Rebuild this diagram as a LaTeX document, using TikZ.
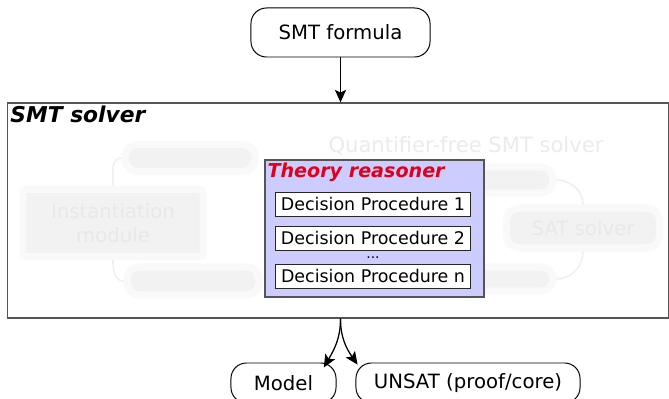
\documentclass[tikz,border=0pt]{standalone}
\usepackage{fontspec}
\setmainfont{DejaVu Sans}
\usetikzlibrary{arrows.meta,positioning}

\definecolor{reasonerblue}{HTML}{CCCCFF}
\definecolor{framegray}{HTML}{555555}
\definecolor{titlered}{HTML}{E0001A}

\tikzset{
    pill/.style={draw=black, line width=0.7pt, rounded corners=11pt, fill=white,
        minimum height=1cm, font=\fontsize{14}{17}\selectfont},
    frame/.style={draw=framegray, line width=0.8pt},
    dpbox/.style={draw=black!85, line width=0.7pt, fill=white, inner sep=0pt,
        minimum width=4.85cm, minimum height=0.6cm, font=\fontsize{12.4}{14}\selectfont},
    boxtitle/.style={anchor=north west, inner sep=2pt, font=\fontsize{15.5}{18}\selectfont\bfseries\itshape},
    ghost/.style={fill=black!5, draw=black!2.5, line width=5pt, rounded corners=9pt,
        text=black!9, font=\fontsize{14}{17}\selectfont},
    ghostline/.style={draw=black!6, line width=1.2pt},
    flow/.style={-{Stealth[length=9pt,width=8pt,inset=2pt]}, line width=0.9pt}
}

\begin{document}
\begin{tikzpicture}[x=0.025cm,y=-0.025cm]
    \useasboundingbox (0,0) rectangle (669,399);

    % input formula
    \node[pill, minimum width=4.475cm, minimum height=1.225cm] (formula) at (340.5,32.5) {SMT formula};

    % outer solver frame
    \node[frame, fill=white, minimum width=16.5cm, minimum height=5.375cm] (solver) at (338,210.5) {};
    \node[boxtitle] (solverlabel) at (solver.north west) {SMT solver};

    % faded parts of the solver
    \node[ghost, minimum width=3.25cm, minimum height=0.675cm] (candtop) at (190,158) {};
    \node[ghost, minimum width=4.5cm, minimum height=1.675cm, align=center, rounded corners=2pt] (inst) at (113,223) {Instantiation\\module};
    \node[ghost, minimum width=3.3cm, minimum height=0.7cm] (candbot) at (193,281) {};
    \node[text=black!8, font=\fontsize{15}{18}\selectfont] (qflabel) at (466,146) {Quantifier-free SMT solver};
    \node[ghost, minimum width=3.3cm, minimum height=0.65cm] (qftop) at (487,180) {};
    \node[ghost, minimum width=3.3cm, minimum height=0.6cm] (qfbot) at (487,279) {};
    \node[ghost, minimum width=3.825cm, minimum height=1cm] (sat) at (583,228) {SAT solver};
    \draw[ghostline] (inst.north) to[out=90,in=180] (candtop.west);
    \draw[ghostline] (inst.south) to[out=-90,in=180] (candbot.west);
    \draw[ghostline] (qftop.east) to[out=0,in=90] (sat.north);
    \draw[ghostline] (sat.south) to[out=-90,in=0] (qfbot.east);

    % theory reasoner with its decision procedures
    \node[frame, fill=reasonerblue, minimum width=5.475cm, minimum height=3.425cm] (reasoner) at (374.5,228.5) {};
    \node[boxtitle, text=titlered, font=\fontsize{13.6}{16}\selectfont\bfseries\itshape] (reasonerlabel) at (reasoner.north west) {Theory reasoner};
    \node[dpbox] (dp1) at (373,204) {Decision Procedure 1};
    \node[dpbox] (dp2) at (373,238) {Decision Procedure 2};
    \node[dpbox] (dpn) at (373,276) {Decision Procedure n};
    \node[anchor=base, inner sep=0pt, font=\fontsize{10}{12}\selectfont] (dpdots) at (373,258) {...};

    % outputs
    \node[pill, minimum width=2.625cm] (model) at (283.5,383) {Model};
    \node[pill, minimum width=5.6cm] (unsat) at (468,383) {UNSAT (proof/core)};

    \draw[flow] (formula) -- (formula.south |- solver.north);
    \coordinate (split) at (formula.south |- solver.south);
    \draw[flow] (split) to[out=-90,in=60] ([xshift=-9pt,yshift=-3.5pt]model.north east);
    \draw[flow] (split) to[out=-90,in=125] ([xshift=1.5pt,yshift=-1.5pt]unsat.north west);
\end{tikzpicture}
\end{document}
